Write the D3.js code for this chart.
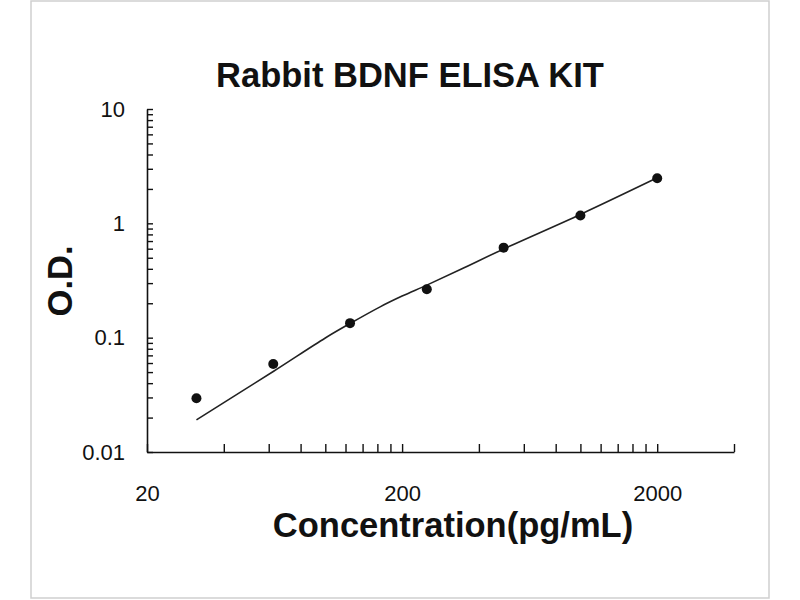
<!DOCTYPE html>
<html>
<head>
<meta charset="utf-8">
<script src="https://cdn.jsdelivr.net/npm/d3@7"></script>
<style>
  body { margin: 0; background: #fff; }
  svg { display: block; }
</style>
</head>
<body>
<div id="chart"></div>
<script>
// standard concentrations (pg/mL) and measured O.D.
var concentrations = [31.25, 62.5, 125, 250, 500, 1000, 2000];
var odValues = [0.0295, 0.0589, 0.134, 0.265, 0.613, 1.17, 2.48];

// fitted curve
var fitConc = [31.25, 62.5, 100, 125, 164, 200, 250, 340, 500, 1000, 2000];
var fitOd = [0.0191, 0.0506, 0.0994, 0.133, 0.186, 0.231, 0.288, 0.396, 0.597, 1.197, 2.50];

// axis ticks
var xTicks = [20, 40, 60, 80, 100, 120, 140, 160, 180,
              200, 400, 600, 800, 1000, 1200, 1400, 1600, 1800,
              2000, 4000];
var xLabels = [20, 200, 2000];
var yTicks = [0.01, 0.02, 0.03, 0.04, 0.05, 0.06, 0.07, 0.08, 0.09,
              0.1, 0.2, 0.3, 0.4, 0.5, 0.6, 0.7, 0.8, 0.9,
              1, 2, 3, 4, 5, 6, 7, 8, 9, 10];
var yLabels = [0.01, 0.1, 1, 10];

var W = 800, H = 600;
// plot box in pixels (window.top is reserved, so no "top" here)
var plot = {left: 147, right: 734, top: 109, bottom: 452};

var svg = d3.select("#chart")
  .append("svg")
  .attr("width", W)
  .attr("height", H);

// light frame round the picture
svg.append("rect")
  .attr("x", 31)
  .attr("y", 1)
  .attr("width", 738)
  .attr("height", 597)
  .attr("fill", "none")
  .attr("stroke", "#cfcfcf")
  .attr("stroke-width", 1.5);

var x = d3.scaleLog()
  .domain([20, 4000])
  .range([plot.left, plot.right]);

var y = d3.scaleLog()
  .domain([0.01, 10])
  .range([plot.bottom, plot.top]);

// X axis, ticks pointing up into the plot
var xAxis = svg.append("g")
  .attr("transform", "translate(0," + plot.bottom + ")")
  .call(d3.axisBottom(x)
    .tickValues(xTicks)
    .tickSize(-8)
    .tickSizeOuter(0)
    .tickPadding(33)
    .tickFormat(function(d) { return xLabels.indexOf(d) >= 0 ? String(d) : ""; }));
xAxis.select(".domain").attr("stroke", "#111").attr("stroke-width", 1.6);
xAxis.selectAll(".tick line").attr("stroke", "#111").attr("stroke-width", 1.4);
xAxis.selectAll("text")
  .attr("fill", "#111")
  .style("font-family", "Liberation Sans, Arial, sans-serif")
  .style("font-size", "22px");

// Y axis, ticks pointing right into the plot
var yAxis = svg.append("g")
  .attr("transform", "translate(" + plot.left + ",0)")
  .call(d3.axisLeft(y)
    .tickValues(yTicks)
    .tickSize(-6)
    .tickSizeOuter(0)
    .tickPadding(22)
    .tickFormat(function(d) { return yLabels.indexOf(d) >= 0 ? String(d) : ""; }));
yAxis.select(".domain").attr("stroke", "#111").attr("stroke-width", 1.6);
yAxis.selectAll(".tick line").attr("stroke", "#111").attr("stroke-width", 1.4);
yAxis.selectAll("text")
  .attr("fill", "#111")
  .style("font-family", "Liberation Sans, Arial, sans-serif")
  .style("font-size", "22px");

// fitted curve
var fit = fitConc.map(function(c, i) { return {c: c, od: fitOd[i]}; });
var line = d3.line()
  .x(function(d) { return x(d.c); })
  .y(function(d) { return y(d.od); })
  .curve(d3.curveCatmullRom);
svg.append("path")
  .datum(fit)
  .attr("d", line)
  .attr("fill", "none")
  .attr("stroke", "#222")
  .attr("stroke-width", 1.6);

// standards
svg.selectAll("circle.pt")
  .data(concentrations)
  .enter()
  .append("circle")
  .attr("class", "pt")
  .attr("cx", function(d) { return x(d); })
  .attr("cy", function(d, i) { return y(odValues[i]); })
  .attr("r", 5)
  .attr("fill", "#111");

// Title
svg.append("text")
  .attr("x", 410)
  .attr("y", 87)
  .attr("text-anchor", "middle")
  .style("font-family", "Liberation Sans, Arial, sans-serif")
  .style("font-weight", "bold")
  .style("font-size", "34.5px")
  .attr("fill", "#111")
  .text("Rabbit BDNF ELISA KIT");

// X label
svg.append("text")
  .attr("x", 453)
  .attr("y", 537)
  .attr("text-anchor", "middle")
  .style("font-family", "Liberation Sans, Arial, sans-serif")
  .style("font-weight", "bold")
  .style("font-size", "34.5px")
  .attr("fill", "#111")
  .text("Concentration(pg/mL)");

// Y label
svg.append("text")
  .attr("text-anchor", "middle")
  .attr("transform", "translate(72,281)rotate(-90)")
  .style("font-family", "Liberation Sans, Arial, sans-serif")
  .style("font-weight", "bold")
  .style("font-size", "34.5px")
  .attr("fill", "#111")
  .text("O.D.");
</script>
</body>
</html>
